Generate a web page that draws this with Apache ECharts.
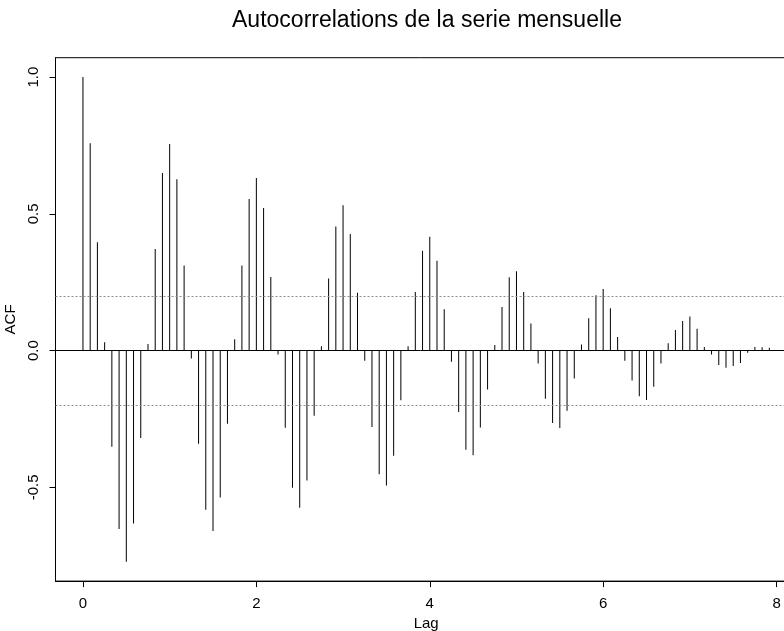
<!DOCTYPE html>
<html>
<head>
<meta charset="utf-8">
<script src="https://cdn.jsdelivr.net/npm/echarts@6/dist/echarts.min.js"></script>
<style>
  html, body { margin: 0; padding: 0; background: #fff; }
  #chart { width: 784px; height: 631px; }
</style>
</head>
<body>
<div id="chart"></div>
<script>
// Monthly lags (in years): 0, 1/12, 2/12, ...
const lagCount = 96;
const lags = Array.from({ length: lagCount }, (_, k) => k / 12);

// Sample autocorrelations, one value per lag
const acfValues = [
  1.000, 0.758, 0.396, 0.030, -0.352, -0.652, -0.772, -0.632, -0.320, 0.024, 0.371, 0.649,
  0.755, 0.626, 0.311, -0.029, -0.341, -0.582, -0.660, -0.537, -0.268, 0.041, 0.311, 0.554,
  0.631, 0.521, 0.269, -0.014, -0.282, -0.502, -0.575, -0.475, -0.238, 0.016, 0.264, 0.454,
  0.531, 0.426, 0.211, -0.037, -0.279, -0.452, -0.493, -0.385, -0.182, 0.016, 0.214, 0.365,
  0.416, 0.328, 0.151, -0.041, -0.225, -0.363, -0.383, -0.281, -0.142, 0.020, 0.159, 0.268,
  0.290, 0.214, 0.099, -0.047, -0.176, -0.265, -0.283, -0.220, -0.102, 0.022, 0.118, 0.202,
  0.225, 0.155, 0.050, -0.037, -0.109, -0.167, -0.181, -0.132, -0.047, 0.027, 0.075, 0.108,
  0.125, 0.080, 0.013, -0.014, -0.053, -0.063, -0.056, -0.045, -0.008, 0.013, 0.012, 0.010
];

// Significance band (white-noise bounds)
const ciBound = 0.2035;

// Tick positions
const xTicks = [0, 2, 4, 6, 8];
const yTicks = [-0.5, 0, 0.5, 1.0];

const FONT = "'Liberation Sans', Arial, Helvetica, sans-serif";

// Axis ranges padded by 4% like a classic base plot
const xMin = lags[0], xMax = lags[lags.length - 1];
const xPad = (xMax - xMin) * 0.04;
const yMinData = Math.min(...acfValues), yMaxData = Math.max(...acfValues);
const yPad = (yMaxData - yMinData) * 0.04;

const tickStyle = { show: true, inside: false, length: 6, lineStyle: { color: '#000', width: 1 } };

const chart = echarts.init(document.getElementById('chart'), null, { renderer: 'canvas' });

chart.setOption({
  backgroundColor: '#ffffff',
  animation: false,
  title: {
    text: 'Autocorrelations de la serie mensuelle',
    left: 422,
    top: 4,
    textAlign: 'center',
    textStyle: { fontFamily: FONT, fontSize: 23, fontWeight: 'normal', color: '#000' }
  },
  grid: {
    left: 55.5,
    top: 57.7,
    width: 741.3,
    height: 523.4,
    containLabel: false,
    outerBoundsMode: 'none',
    show: true,
    borderColor: '#000',
    borderWidth: 1,
    backgroundColor: 'transparent'
  },
  xAxis: {
    type: 'value',
    min: xMin - xPad,
    max: xMax + xPad,
    name: 'Lag',
    nameLocation: 'middle',
    nameGap: 31,
    nameTextStyle: { fontFamily: FONT, fontSize: 15, color: '#000' },
    axisLine: { show: true, onZero: false, lineStyle: { color: '#000', width: 1 } },
    axisTick: Object.assign({ customValues: xTicks }, tickStyle),
    axisLabel: {
      fontFamily: FONT, fontSize: 15, color: '#000', margin: 15,
      customValues: xTicks,
      formatter: v => String(v)
    },
    splitLine: { show: false }
  },
  yAxis: {
    type: 'value',
    min: yMinData - yPad,
    max: yMaxData + yPad,
    name: 'ACF',
    nameLocation: 'middle',
    nameGap: 34,
    nameRotate: 90,
    nameTextStyle: { fontFamily: FONT, fontSize: 15, color: '#000' },
    axisLine: { show: true, onZero: false, lineStyle: { color: '#000', width: 1 } },
    axisTick: Object.assign({ customValues: yTicks }, tickStyle),
    axisLabel: {
      fontFamily: FONT, fontSize: 15, color: '#000', margin: 14, rotate: 90,
      customValues: yTicks,
      formatter: v => v.toFixed(1)
    },
    splitLine: { show: false }
  },
  series: [{
    type: 'bar',
    barWidth: 1,
    itemStyle: { color: '#000' },
    data: lags.map((l, i) => [l, acfValues[i]]),
    markLine: {
      silent: true,
      symbol: 'none',
      label: { show: false },
      data: [
        { yAxis: 0, lineStyle: { color: '#000', type: 'solid', width: 1 } },
        { yAxis: ciBound, lineStyle: { color: '#8c8c8c', type: [2, 2], width: 1 } },
        { yAxis: -ciBound, lineStyle: { color: '#8c8c8c', type: [2, 2], width: 1 } }
      ]
    }
  }]
});
</script>
</body>
</html>
